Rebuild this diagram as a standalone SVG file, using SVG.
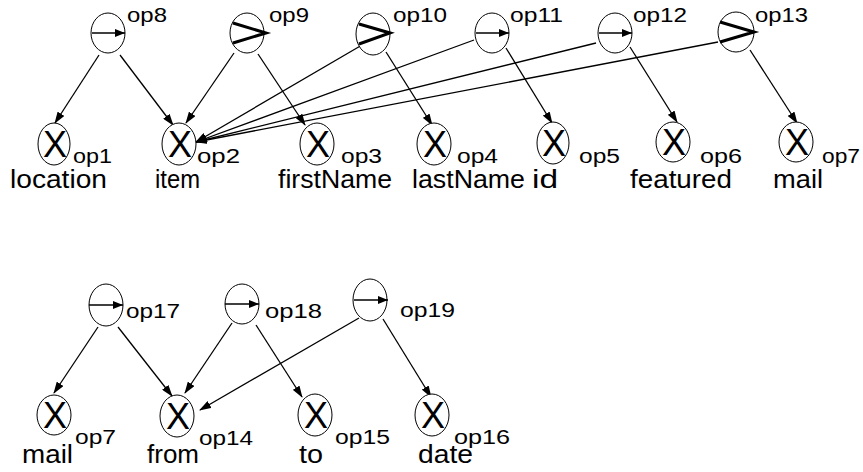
<svg xmlns="http://www.w3.org/2000/svg" width="863" height="472" viewBox="0 0 863 472">
<style>
.bg{fill:#fff}
ellipse{fill:#fff;stroke:#000;stroke-width:1}
.lbl{font-family:"Liberation Sans",Arial,sans-serif;font-size:20px;fill:#000}
.nm{font-family:"Liberation Sans",Arial,sans-serif;font-size:25px;fill:#000}
.x{font-family:"Liberation Sans",Arial,sans-serif;font-size:36px;fill:#000;text-anchor:middle}
.e{stroke:#000;stroke-width:1.3;fill:none;marker-end:url(#ah)}
.sym{stroke:#000;stroke-width:1.5;fill:none;marker-end:url(#sh)}
.gt{stroke:#000;stroke-width:3;fill:none;stroke-linejoin:miter}
</style>
<defs>
<marker id="ah" markerWidth="12" markerHeight="8" refX="11" refY="4" orient="auto" markerUnits="userSpaceOnUse">
<path d="M0,0 L12,4 L0,8 Z" fill="#000"/>
</marker>
<marker id="sh" markerWidth="10" markerHeight="8" refX="10" refY="4" orient="auto" markerUnits="userSpaceOnUse">
<path d="M0,0 L10,4 L0,8 Z" fill="#000"/>
</marker>
</defs>
<rect class="bg" x="0" y="0" width="863" height="472"/>

<g id="connectors">
<line class="e" x1="99" y1="55" x2="55" y2="123"/>
<line class="e" x1="120" y1="55" x2="173" y2="125"/>
<line class="e" x1="234" y1="53" x2="186" y2="123"/>
<line class="e" x1="258" y1="54" x2="305" y2="125"/>
<line class="e" x1="362" y1="45" x2="196" y2="142"/>
<line class="e" x1="386" y1="52" x2="432" y2="125"/>
<line class="e" x1="474" y1="40" x2="196" y2="142"/>
<line class="e" x1="506" y1="48" x2="552" y2="123"/>
<line class="e" x1="596" y1="43" x2="196" y2="142"/>
<line class="e" x1="630" y1="47" x2="677" y2="122"/>
<line class="e" x1="718" y1="42" x2="196" y2="142"/>
<line class="e" x1="750" y1="50" x2="797" y2="123"/>

<line class="e" x1="98" y1="327" x2="54" y2="393"/>
<line class="e" x1="118" y1="327" x2="172" y2="396"/>
<line class="e" x1="232" y1="323" x2="185" y2="393"/>
<line class="e" x1="256" y1="325" x2="302" y2="397"/>
<line class="e" x1="359" y1="318" x2="200" y2="410"/>
<line class="e" x1="383" y1="319" x2="431" y2="397"/>
</g>

<g id="op8"><ellipse cx="108" cy="33" rx="17" ry="20"/><line class="sym" x1="92" y1="33" x2="125" y2="33"/><text class="lbl" x="127" y="22" textLength="40" lengthAdjust="spacingAndGlyphs">op8</text></g>
<g id="op9"><ellipse cx="247" cy="33" rx="17" ry="20"/><polyline class="gt" points="233,23 266,33 233,43"/><text class="lbl" x="269" y="22" textLength="40" lengthAdjust="spacingAndGlyphs">op9</text></g>
<g id="op10"><ellipse cx="373" cy="34" rx="17" ry="21"/><polyline class="gt" points="359,24 390,33 359,44"/><text class="lbl" x="393" y="22" textLength="54" lengthAdjust="spacingAndGlyphs">op10</text></g>
<g id="op11"><ellipse cx="492" cy="33" rx="17" ry="20"/><line class="sym" x1="476" y1="33" x2="509" y2="33"/><text class="lbl" x="510" y="22" textLength="53" lengthAdjust="spacingAndGlyphs">op11</text></g>
<g id="op12"><ellipse cx="615" cy="33" rx="17" ry="20"/><line class="sym" x1="599" y1="33" x2="632" y2="33"/><text class="lbl" x="633" y="22" textLength="54" lengthAdjust="spacingAndGlyphs">op12</text></g>
<g id="op13"><ellipse cx="736" cy="32" rx="18" ry="20"/><polyline class="gt" points="720,22 754,32 720,42"/><text class="lbl" x="755" y="22" textLength="53" lengthAdjust="spacingAndGlyphs">op13</text></g>

<g id="op1"><ellipse cx="54" cy="144" rx="16" ry="21"/><text class="x" x="55" y="157">X</text><text class="lbl" x="73" y="163" textLength="39" lengthAdjust="spacingAndGlyphs">op1</text><text class="nm" x="10" y="188" textLength="97" lengthAdjust="spacingAndGlyphs">location</text></g>
<g id="op2"><ellipse cx="179" cy="144" rx="17" ry="21"/><text class="x" x="180" y="157">X</text><text class="lbl" x="197" y="163" textLength="43" lengthAdjust="spacingAndGlyphs">op2</text><text class="nm" x="155" y="188" textLength="45" lengthAdjust="spacingAndGlyphs">item</text></g>
<g id="op3"><ellipse cx="317" cy="144" rx="17" ry="21"/><text class="x" x="318" y="157">X</text><text class="lbl" x="341" y="163" textLength="41" lengthAdjust="spacingAndGlyphs">op3</text><text class="nm" x="278" y="188" textLength="114" lengthAdjust="spacingAndGlyphs">firstName</text></g>
<g id="op4"><ellipse cx="434" cy="144" rx="17" ry="21"/><text class="x" x="435" y="157">X</text><text class="lbl" x="457" y="163" textLength="41" lengthAdjust="spacingAndGlyphs">op4</text><text class="nm" x="412" y="188" textLength="113" lengthAdjust="spacingAndGlyphs">lastName</text></g>
<g id="op5"><ellipse cx="553" cy="143" rx="16" ry="21"/><text class="x" x="554" y="156">X</text><text class="lbl" x="579" y="163" textLength="41" lengthAdjust="spacingAndGlyphs">op5</text><text class="nm" x="532" y="188" textLength="26" lengthAdjust="spacingAndGlyphs">id</text></g>
<g id="op6"><ellipse cx="673" cy="142" rx="17" ry="20"/><text class="x" x="674" y="155">X</text><text class="lbl" x="700" y="163" textLength="42" lengthAdjust="spacingAndGlyphs">op6</text><text class="nm" x="630" y="188" textLength="102" lengthAdjust="spacingAndGlyphs">featured</text></g>
<g id="op7"><ellipse cx="796" cy="142" rx="17" ry="20"/><text class="x" x="797" y="155">X</text><text class="lbl" x="822" y="163" textLength="38" lengthAdjust="spacingAndGlyphs">op7</text><text class="nm" x="773" y="188" textLength="50" lengthAdjust="spacingAndGlyphs">mail</text></g>

<g id="op17"><ellipse cx="106" cy="305" rx="17" ry="21"/><line class="sym" x1="89" y1="305" x2="123" y2="305"/><text class="lbl" x="126" y="318" textLength="54" lengthAdjust="spacingAndGlyphs">op17</text></g>
<g id="op18"><ellipse cx="242" cy="304" rx="17" ry="20"/><line class="sym" x1="225" y1="304" x2="259" y2="304"/><text class="lbl" x="265" y="318" textLength="57" lengthAdjust="spacingAndGlyphs">op18</text></g>
<g id="op19"><ellipse cx="370" cy="300" rx="17" ry="21"/><line class="sym" x1="354" y1="300" x2="388" y2="300"/><text class="lbl" x="400" y="317" textLength="55" lengthAdjust="spacingAndGlyphs">op19</text></g>

<g id="op7b"><ellipse cx="54" cy="415" rx="17" ry="20"/><text class="x" x="55" y="428">X</text><text class="lbl" x="75" y="444" textLength="41" lengthAdjust="spacingAndGlyphs">op7</text><text class="nm" x="22" y="463" textLength="51" lengthAdjust="spacingAndGlyphs">mail</text></g>
<g id="op14"><ellipse cx="177" cy="416" rx="17" ry="21"/><text class="x" x="178" y="429">X</text><text class="lbl" x="199" y="445" textLength="54" lengthAdjust="spacingAndGlyphs">op14</text><text class="nm" x="147" y="463" textLength="52" lengthAdjust="spacingAndGlyphs">from</text></g>
<g id="op15"><ellipse cx="315" cy="415" rx="17" ry="21"/><text class="x" x="316" y="428">X</text><text class="lbl" x="335" y="444" textLength="55" lengthAdjust="spacingAndGlyphs">op15</text><text class="nm" x="299" y="463" textLength="24" lengthAdjust="spacingAndGlyphs">to</text></g>
<g id="op16"><ellipse cx="432" cy="415" rx="17" ry="21"/><text class="x" x="433" y="428">X</text><text class="lbl" x="454" y="444" textLength="56" lengthAdjust="spacingAndGlyphs">op16</text><text class="nm" x="418" y="463" textLength="55" lengthAdjust="spacingAndGlyphs">date</text></g>
</svg>
